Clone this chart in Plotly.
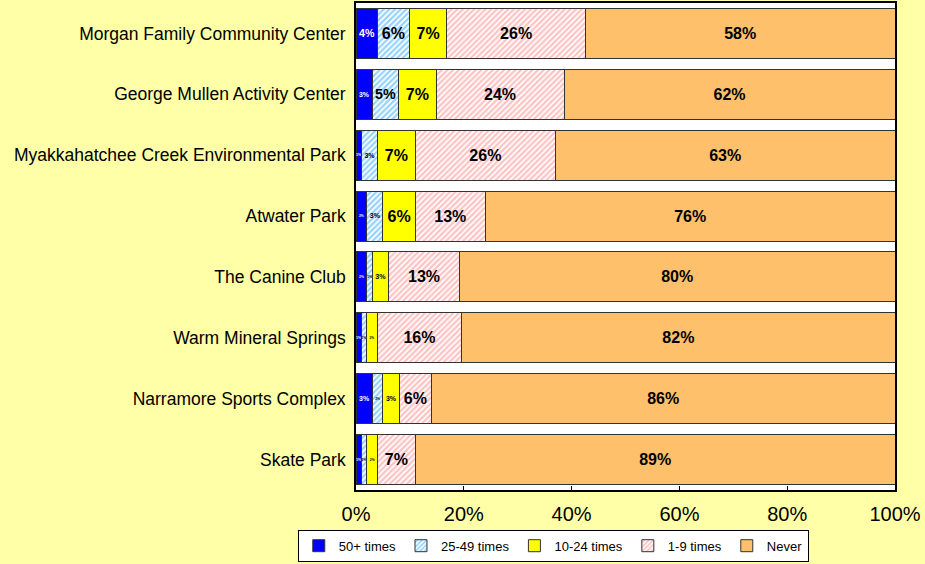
import plotly.graph_objects as go

categories = [
    "Morgan Family Community Center",
    "George Mullen Activity Center",
    "Myakkahatchee Creek Environmental Park",
    "Atwater Park",
    "The Canine Club",
    "Warm Mineral Springs",
    "Narramore Sports Complex",
    "Skate Park",
]
series_names = ["50+ times", "25-49 times", "10-24 times", "1-9 times", "Never"]
v_50plus = [4, 3, 1, 2, 2, 1, 3, 1]
v_25_49 = [6, 5, 3, 3, 1, 1, 2, 1]
v_10_24 = [7, 7, 7, 6, 3, 2, 3, 2]
v_1_9 = [26, 24, 26, 13, 13, 16, 6, 7]
v_never = [58, 62, 63, 76, 80, 82, 86, 89]
tick_vals = [0, 20, 40, 60, 80, 100]
tick_text = ["0%", "20%", "40%", "60%", "80%", "100%"]

values = [v_50plus, v_25_49, v_10_24, v_1_9, v_never]
styles = [
    dict(color="#0000FF", pattern=None, font="white"),
    dict(color="white", pattern=dict(shape="/", fgcolor="#2AA6FF", bgcolor="white", size=4, solidity=0.55), font="black"),
    dict(color="#FFFF00", pattern=None, font="black"),
    dict(color="white", pattern=dict(shape="/", fgcolor="#FF8585", bgcolor="white", size=4, solidity=0.55), font="black"),
    dict(color="#FFC06B", pattern=None, font="black"),
]

fig = go.Figure()
for name, vals, st in zip(series_names, values, styles):
    marker = dict(color=st["color"], line=dict(color="#333333", width=1))
    if st["pattern"]:
        marker["pattern"] = st["pattern"]
    fig.add_trace(go.Bar(
        y=categories, x=vals, name=name, orientation="h", marker=marker,
        text=[f"{v}%" for v in vals], textposition="inside",
        insidetextanchor="middle", textangle=0,
        textfont=dict(family="Arial, Liberation Sans", size=16, color=st["font"], weight="bold"),
        hoverinfo="skip",
    ))

fig.update_layout(
    barmode="stack", barnorm="percent", bargap=0.18,
    width=925, height=564,
    paper_bgcolor="#FFFFA8", plot_bgcolor="white",
    margin=dict(l=356, r=30, t=3, b=74, autoexpand=False),
    font=dict(family="Arial, Liberation Sans", color="black"),
    xaxis=dict(range=[0, 100], tickvals=tick_vals, ticktext=tick_text,
               tickfont=dict(size=20), showgrid=False, zeroline=False,
               showline=True, linecolor="black", linewidth=2, mirror=True,
               ticks="inside", ticklen=4, tickcolor="black", ticklabelstandoff=5),
    yaxis=dict(autorange="reversed", tickfont=dict(size=17.5), showgrid=False,
               showline=True, linecolor="black", linewidth=2, mirror=True,
               ticks="", ticksuffix=" "),
    legend=dict(orientation="h", x=0.366, xanchor="center",
                yref="container", y=0.004, yanchor="bottom",
                bgcolor="white", bordercolor="black", borderwidth=1,
                font=dict(size=13), itemwidth=30, tracegroupgap=0,
                traceorder="normal"),
)
fig.write_html("out.html", config={"displayModeBar": False},
               post_script="document.body.style.margin='0';")
